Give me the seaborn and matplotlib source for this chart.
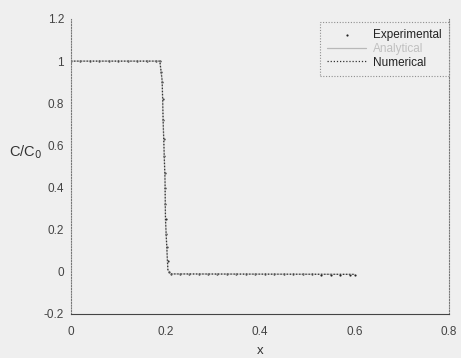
import matplotlib
matplotlib.use("Agg")
import matplotlib.pyplot as plt
import seaborn as sns
import pandas as pd

# Experimental data (breakthrough step)
exp_x = [0.0, 0.02, 0.04, 0.06, 0.08, 0.10, 0.12, 0.14, 0.16, 0.18, 0.188,
         0.191, 0.193, 0.194, 0.195, 0.196, 0.197, 0.198, 0.199, 0.200, 0.201,
         0.202, 0.203, 0.205, 0.208, 0.211, 0.23, 0.25, 0.27, 0.29, 0.31,
         0.33, 0.35, 0.37, 0.39, 0.41, 0.43, 0.45, 0.47, 0.49, 0.51, 0.53,
         0.55, 0.57, 0.59, 0.60]
exp_y = [1.0, 1.0, 1.0, 1.0, 1.0, 1.0, 1.0, 1.0, 1.0, 1.0, 1.0,
         0.95, 0.90, 0.82, 0.72, 0.63, 0.55, 0.47, 0.40, 0.32, 0.25,
         0.18, 0.12, 0.05, 0.0, -0.01, -0.01, -0.01, -0.01, -0.01, -0.01,
         -0.01, -0.01, -0.01, -0.01, -0.01, -0.01, -0.01, -0.01, -0.01, -0.01, -0.015,
         -0.015, -0.015, -0.015, -0.015]

# Analytical solution
ana_x = [0.0, 0.188, 0.193, 0.195, 0.199, 0.200, 0.205, 0.211, 0.60]
ana_y = [1.0, 1.0, 0.906, 0.717, 0.434, 0.245, 0.01, -0.01, -0.012]

# Numerical solution
num_x = [0.0, 0.188, 0.193, 0.195, 0.199, 0.200, 0.205, 0.211, 0.60]
num_y = [1.0, 1.0, 0.906, 0.717, 0.434, 0.245, 0.01, -0.01, -0.012]

x_ticks = [0, 0.2, 0.4, 0.6, 0.8]
x_tick_labels = ["0", "0.2", "0.4", "0.6", "0.8"]
y_ticks = [-0.2, 0, 0.2, 0.4, 0.6, 0.8, 1.0, 1.2]
y_tick_labels = ["-0.2", "0", "0.2", "0.4", "0.6", "0.8", "1", "1.2"]

sns.set_style("white")
plt.rcParams['font.family'] = ['Liberation Sans', 'DejaVu Sans']

bg = "#efefef"
fig = plt.figure(figsize=(4.61, 3.58), dpi=100, facecolor=bg)
ax = fig.add_axes([0.154, 0.123, 0.82, 0.824])
ax.set_facecolor(bg)

sns.lineplot(x=ana_x, y=ana_y, ax=ax, color="#b8b8b8", linewidth=0.9,
             label="Analytical", sort=False)
sns.lineplot(x=num_x, y=num_y, ax=ax, color="#333333", linewidth=0.9,
             linestyle=(0, (1, 1.5)), label="Numerical", sort=False)
sns.scatterplot(x=exp_x, y=exp_y, ax=ax, color="#222222", s=2.5, marker="o",
                linewidth=0, label="Experimental")

ax.set_xlim(0, 0.8)
ax.set_ylim(-0.2, 1.2)
ax.set_xticks(x_ticks)
ax.set_xticklabels(x_tick_labels)
ax.set_yticks(y_ticks)
ax.set_yticklabels(y_tick_labels)
ax.tick_params(axis="both", labelsize=8.5, labelcolor="#444444", length=0)
ax.tick_params(axis="x", pad=9)
ax.tick_params(axis="y", pad=5)

ax.set_xlabel("x", fontsize=9.5, color="#333333", labelpad=5)
ax.set_ylabel("C/C$_0$", fontsize=10.5, color="#333333", rotation=0,
              va="center", ha="left")
ax.yaxis.set_label_coords(-0.165, 0.55)

for side in ["left", "right"]:
    ax.spines[side].set_linestyle((0, (1, 1.5)))
    ax.spines[side].set_color("#777777")
    ax.spines[side].set_linewidth(0.8)
ax.spines["top"].set_visible(False)
ax.spines["bottom"].set_color("#444444")
ax.spines["bottom"].set_linewidth(0.8)

handles, labels = ax.get_legend_handles_labels()
order = [labels.index("Experimental"), labels.index("Analytical"), labels.index("Numerical")]
leg = ax.legend([handles[i] for i in order], [labels[i] for i in order],
                loc="upper right", bbox_to_anchor=(1.0, 0.99), fontsize=8.5,
                frameon=True, fancybox=False, borderpad=0.6, handlelength=3.3,
                handletextpad=0.6, labelspacing=0.15, borderaxespad=0)
leg.get_frame().set_facecolor(bg)
leg.get_frame().set_edgecolor("#777777")
leg.get_frame().set_linestyle((0, (1, 1.5)))
leg.get_frame().set_linewidth(0.8)
for t, c in zip(leg.get_texts(), ["#222222", "#c0c0c0", "#222222"]):
    t.set_color(c)

fig.savefig("out.png", dpi=100, facecolor=bg)
